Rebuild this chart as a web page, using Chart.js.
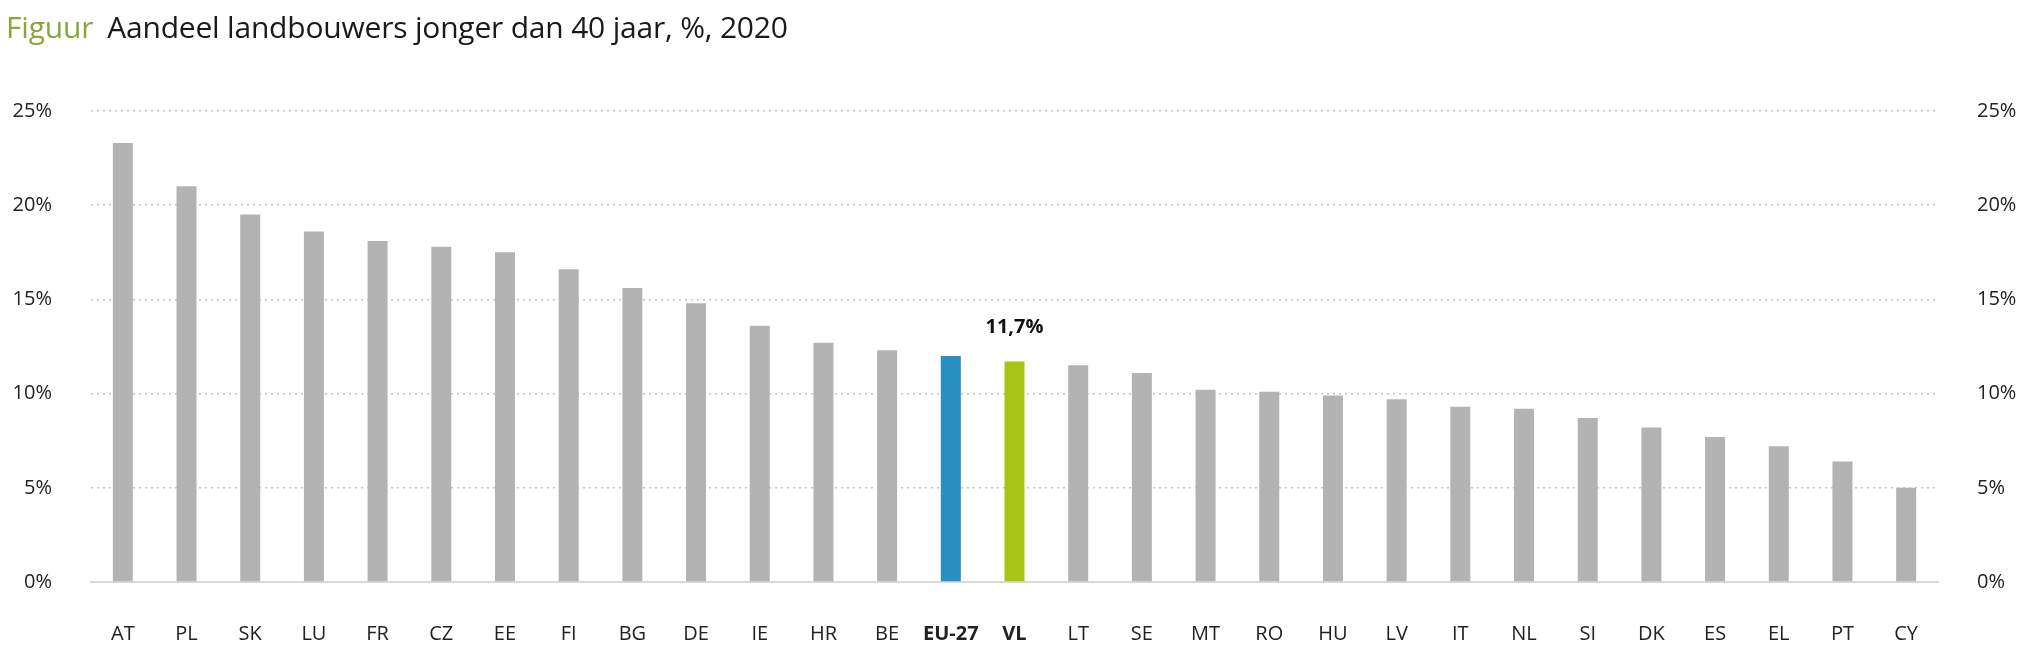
<!DOCTYPE html>
<html>
<head>
<meta charset="utf-8">
<script src="https://cdn.jsdelivr.net/npm/chart.js@4.4.1/dist/chart.umd.min.js"></script>
<style>
  html, body { margin: 0; padding: 0; background: #fff; }
  #wrap { position: relative; width: 2030px; height: 660px; }
  #title {
    position: absolute; left: 6px; top: 6px;
    font-family: "Open Sans", sans-serif; font-size: 30px; color: #1a1a1a;
    letter-spacing: -0.2px; white-space: nowrap;
  }
  #title .lbl { color: #86a83a; margin-right: 14px; }
  #myChart { position: absolute; left: 0; top: 0; }
</style>
</head>
<body>
<div id="wrap">
  <canvas id="myChart" width="2030" height="660"></canvas>
  <div id="title"><span class="lbl">Figuur</span>Aandeel landbouwers jonger dan 40 jaar, %, 2020</div>
</div>
<script>
// Data
const countries = ['AT', 'PL', 'SK', 'LU', 'FR', 'CZ', 'EE', 'FI', 'BG', 'DE', 'IE', 'HR', 'BE', 'EU-27', 'VL',
    'LT', 'SE', 'MT', 'RO', 'HU', 'LV', 'IT', 'NL', 'SI', 'DK', 'ES', 'EL', 'PT', 'CY'];
const shareYoung = [23.3, 21.0, 19.5, 18.6, 18.1, 17.8, 17.5, 16.6, 15.6, 14.8, 13.6, 12.7, 12.3, 12.0, 11.7,
    11.5, 11.1, 10.2, 10.1, 9.9, 9.7, 9.3, 9.2, 8.7, 8.2, 7.7, 7.2, 6.4, 5.0];
const yTicks = [0, 5, 10, 15, 20, 25];
const labelled = ['VL'];

const barColors = countries.map(c => {
    if (c === 'EU-27') return '#2a8fc1';
    if (c === 'VL') return '#a8c515';
    return '#b3b3b3';
});

// draws the value above the highlighted bar
const valueLabel = {
    id: 'valueLabel',
    afterDatasetsDraw(chart) {
        const ctx = chart.ctx;
        const meta = chart.getDatasetMeta(0);
        ctx.save();
        ctx.font = 'bold 20px "Open Sans", sans-serif';
        ctx.fillStyle = '#111';
        ctx.textAlign = 'center';
        ctx.textBaseline = 'bottom';
        countries.forEach((c, i) => {
            if (!labelled.includes(c)) return;
            const bar = meta.data[i];
            ctx.fillText(shareYoung[i].toFixed(1).replace('.', ',') + '%', bar.x, bar.y - 24);
        });
        ctx.restore();
    }
};

const tickFont = { family: '"Open Sans", sans-serif', size: 20 };

const yAxis = (pos, showGrid, axisWidth) => ({
    position: pos,
    min: 0,
    max: 25,
    afterBuildTicks: axis => { axis.ticks = yTicks.map(v => ({ value: v })); },
    afterFit: axis => { axis.width = axisWidth; },
    border: { display: false, dash: [2, 4] },
    grid: {
        display: showGrid,
        drawTicks: false,
        color: ctx => ctx.tick && ctx.tick.value === 0 ? 'rgba(0,0,0,0)' : '#c4c4c4',
        lineWidth: 1.5
    },
    ticks: {
        color: '#222',
        font: tickFont,
        padding: 39,
        callback: v => v + '%'
    }
});

const ctx = document.getElementById('myChart').getContext('2d');
const myChart = new Chart(ctx, {
    type: 'bar',
    data: {
        labels: countries,
        datasets: [{
            data: shareYoung,
            backgroundColor: barColors,
            barPercentage: 0.314,
            categoryPercentage: 1
        }]
    },
    options: {
        responsive: false,
        animation: false,
        layout: { padding: { top: 111, left: 0, right: 0, bottom: 0 } },
        plugins: {
            legend: { display: false },
            tooltip: { enabled: false }
        },
        scales: {
            x: {
                afterFit: axis => { axis.height = 78; },
                grid: { display: false, drawTicks: false },
                border: { display: true, color: '#d9d9d9', width: 2 },
                ticks: {
                    color: '#222',
                    padding: 40,
                    maxRotation: 0,
                    minRotation: 0,
                    autoSkip: false,
                    font: c => ({
                        family: '"Open Sans", sans-serif',
                        size: 20,
                        weight: (countries[c.index] === 'EU-27' || countries[c.index] === 'VL') ? 'bold' : 'normal'
                    })
                }
            },
            y: yAxis('left', true, 91),
            y2: yAxis('right', false, 92)
        }
    },
    plugins: [valueLabel]
});
</script>
</body>
</html>
